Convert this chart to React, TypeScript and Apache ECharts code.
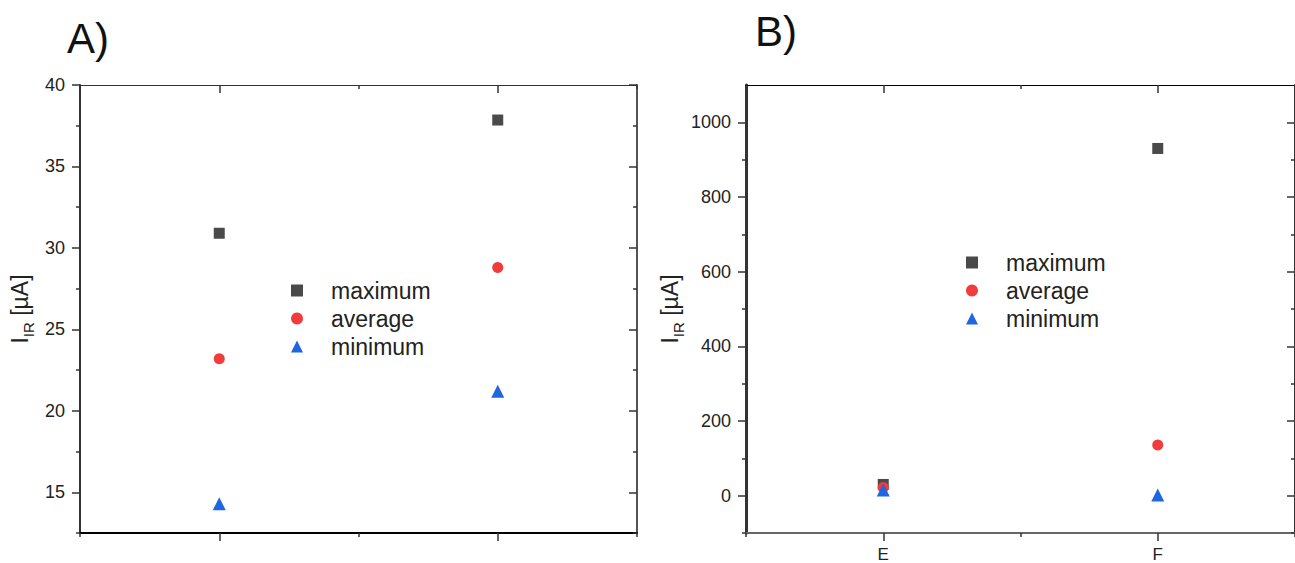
import React, { useEffect, useRef } from "react";
import * as echarts from "echarts";

// ---- data ----
const categoriesA = ["C", "D"];
const maximumA = [30.9, 37.85];
const averageA = [23.2, 28.8];
const minimumA = [14.3, 21.2];

const categoriesB = ["E", "F"];
const maximumB = [30, 930];
const averageB = [22, 136];
const minimumB = [15, 2];

const yMajorA = [15, 20, 25, 30, 35, 40];
const yMinorA = [12.5, 17.5, 22.5, 27.5, 32.5, 37.5];
const yMajorB = [0, 200, 400, 600, 800, 1000];
const yMinorB = [-100, 100, 300, 500, 700, 900];

const seriesNames = ["maximum", "average", "minimum"];
const symbols = ["rect", "circle", "triangle"];
const colors = ["#4a4a4a", "#f23b3b", "#1f66e0"];
const sizes = [11, 11, 13];

const AXIS = "#333333";
const FONT = "Liberation Sans, Arial, sans-serif";

// per-side line styles [bottom, top, left, right] for panel A and B
const lineStylesA = [
  { color: "#000000", width: 2 },
  { color: "#333333", width: 1 },
  { color: "#333333", width: 2 },
  { color: "#555555", width: 2 },
];
const lineStylesB = [
  { color: "#666666", width: 2 },
  { color: "#000000", width: 1 },
  { color: "#333333", width: 3 },
  { color: "#333333", width: 2 },
];

export default function App() {
  const ref = useRef<HTMLDivElement>(null);
  useEffect(() => {
    if (!ref.current) return;
    const chart = echarts.init(ref.current, null, { renderer: "svg" });

    const xAxes: any[] = [];
    const yAxes: any[] = [];
    const panels = [
      { cats: categoriesA, showLabels: false, min: 12.5, max: 40, major: yMajorA, minor: yMinorA, ls: lineStylesA },
      { cats: categoriesB, showLabels: true, min: -100, max: 1100, major: yMajorB, minor: yMinorB, ls: lineStylesB },
    ];
    panels.forEach((p, gi) => {
      ["bottom", "top"].forEach((pos, pi) => {
        const inside = pos === "top";
        xAxes.push({
          type: "category",
          gridIndex: gi,
          position: pos,
          data: p.cats,
          boundaryGap: true,
          axisLine: { show: true, onZero: false, lineStyle: p.ls[pi] },
          axisTick: { show: true, alignWithLabel: true, inside, length: 8, lineStyle: { color: AXIS, width: 1.5 } },
          axisLabel: {
            show: p.showLabels && pos === "bottom",
            color: "#222",
            fontSize: 17,
            fontFamily: FONT,
            margin: 13,
          },
          splitLine: { show: false },
        });
        xAxes.push({
          type: "category",
          gridIndex: gi,
          position: pos,
          data: p.cats,
          boundaryGap: true,
          axisLine: { show: false, onZero: false },
          axisTick: { show: true, alignWithLabel: false, inside, length: 4, lineStyle: { color: AXIS, width: 1.5 } },
          axisLabel: { show: false },
          splitLine: { show: false },
        });
      });
      ["left", "right"].forEach((pos, pi) => {
        const inside = pos === "right";
        yAxes.push({
          type: "value",
          gridIndex: gi,
          position: pos,
          min: p.min,
          max: p.max,
          name: pos === "left" ? "{a|I}{s|IR}{a| [µA]}" : "",
          nameLocation: "middle",
          nameGap: gi === 0 ? 44 : 60,
          nameTextStyle: {
            rich: {
              a: { fontSize: 23, fontFamily: FONT, color: "#222", verticalAlign: "top", lineHeight: 28 },
              s: { fontSize: 15, fontFamily: FONT, color: "#222", verticalAlign: "bottom", lineHeight: 28 },
            },
          },
          axisLine: { show: true, onZero: false, lineStyle: p.ls[2 + pi] },
          axisTick: { show: true, inside, length: 8, customValues: p.major, lineStyle: { color: AXIS, width: 1.5 } },
          axisLabel: {
            show: pos === "left",
            customValues: p.major,
            formatter: (v: number) => String(v),
            color: "#222",
            fontSize: 18,
            fontFamily: FONT,
            margin: 15,
          },
          splitLine: { show: false },
        });
        yAxes.push({
          type: "value",
          gridIndex: gi,
          position: pos,
          min: p.min,
          max: p.max,
          axisLine: { show: false, onZero: false },
          axisTick: { show: true, inside, length: 4, customValues: p.minor, lineStyle: { color: AXIS, width: 1.5 } },
          axisLabel: { show: false },
          splitLine: { show: false },
        });
      });
    });

    const valuesA = [maximumA, averageA, minimumA];
    const valuesB = [maximumB, averageB, minimumB];
    const series: any[] = [];
    [valuesA, valuesB].forEach((vals, gi) => {
      vals.forEach((arr, si) => {
        series.push({
          type: "scatter",
          name: seriesNames[si],
          xAxisIndex: gi * 4,
          yAxisIndex: gi * 4,
          symbol: symbols[si],
          symbolSize: sizes[si],
          itemStyle: { color: colors[si], opacity: 1 },
          data: arr,
          z: 3 + si,
        });
      });
    });

    const legendData = seriesNames.map((n, i) => ({ name: n, icon: symbols[i] }));
    const legendBase = {
      orient: "vertical",
      selectedMode: false,
      itemWidth: 12,
      itemHeight: 12,
      itemGap: 5,
      padding: 0,
      data: legendData,
      textStyle: { fontSize: 23, fontFamily: FONT, color: "#222", padding: [0, 0, 0, 23], lineHeight: 21 },
    };

    chart.setOption({
      animation: false,
      backgroundColor: "#fff",
      grid: [
        { left: 80, top: 85, width: 557, height: 448 },
        { left: 746, top: 85, width: 554, height: 448 },
      ],
      xAxis: xAxes,
      yAxis: yAxes,
      series,
      legend: [
        { ...legendBase, left: 291, top: 279 },
        { ...legendBase, left: 966, top: 251 },
      ],
      graphic: [
        { type: "text", left: 67, top: 17, style: { text: "A)", fontSize: 42, fontFamily: FONT, fill: "#111" } },
        { type: "text", left: 755, top: 10, style: { text: "B)", fontSize: 42, fontFamily: FONT, fill: "#111" } },
      ],
    });
    return () => chart.dispose();
  }, []);

  return <div ref={ref} style={{ position: "fixed", left: 0, top: 0, width: 1295, height: 563, background: "#fff" }} />;
}
